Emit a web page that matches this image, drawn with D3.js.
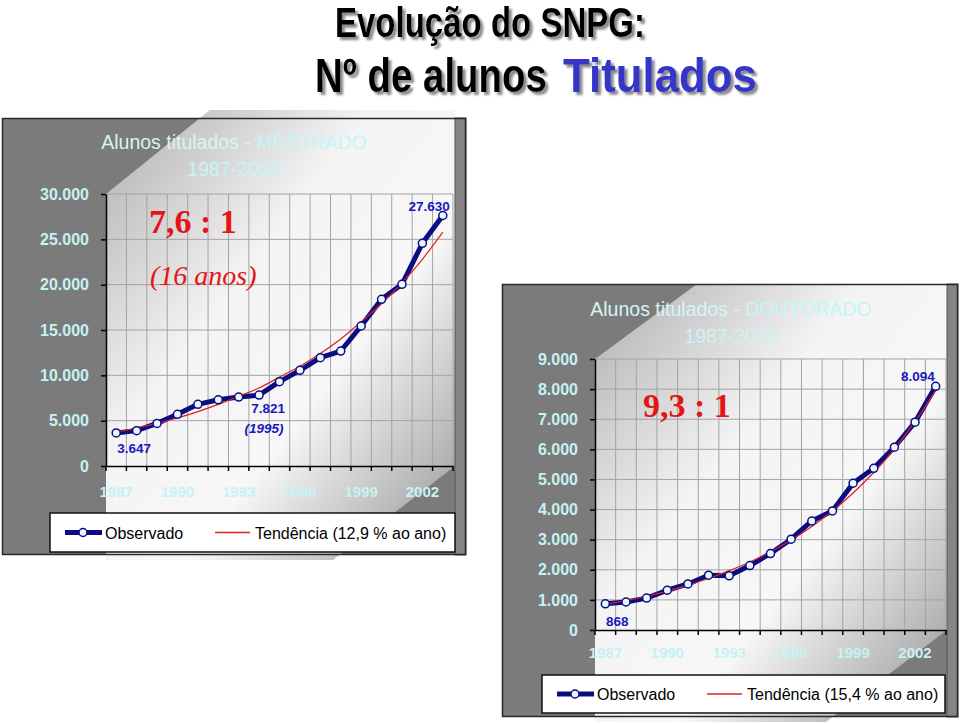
<!DOCTYPE html>
<html><head><meta charset="utf-8">
<script src="https://cdn.jsdelivr.net/npm/d3@7"></script>
<style>body{margin:0;background:#fff}</style>
</head><body><svg id="c" width="960" height="724"></svg>
<script>
// ---------- DATA ----------
const years = ["1987","1988","1989","1990","1991","1992","1993","1994","1995","1996","1997","1998","1999","2000","2001","2002","2003"];
const xTickLabels = ["1987","1990","1993","1996","1999","2002"];

const mestradoObs   = [3647, 3900, 4700, 5700, 6800, 7300, 7600, 7821, 9300, 10550, 11950, 12680, 15440, 18380, 20040, 24560, 27630];
const mestradoTrend = [3700, 4200, 4700, 5300, 6000, 6800, 7700, 8600, 9800, 11000, 12400, 14000, 15900, 17900, 20200, 22800, 25800];
const mestradoTicks = [0, 5000, 10000, 15000, 20000, 25000, 30000];
const mestradoTickLabels = ["0","5.000","10.000","15.000","20.000","25.000","30.000"];

const doutoradoObs   = [868, 930, 1060, 1320, 1530, 1820, 1800, 2140, 2540, 3015, 3620, 3955, 4876, 5370, 6070, 6900, 8094];
const doutoradoTrend = [850, 980, 1120, 1290, 1490, 1710, 1970, 2260, 2600, 2990, 3440, 3950, 4550, 5230, 6010, 6920, 7950];
const doutoradoTicks = [0, 1000, 2000, 3000, 4000, 5000, 6000, 7000, 8000, 9000];
const doutoradoTickLabels = ["0","1.000","2.000","3.000","4.000","5.000","6.000","7.000","8.000","9.000"];

const legendLabels = ["Observado", "Tendência (12,9 % ao ano)", "Tendência (15,4 % ao ano)"];

// ---------- DRAW ----------
const svg = d3.select("#c");
const defs = svg.append("defs");
const grad = defs.append("linearGradient").attr("id","wall")
  .attr("x1",0).attr("y1",0).attr("x2",1).attr("y2",1);
[[0,"#aeaeae"],[0.38,"#f4f4f4"],[0.62,"#f7f7f7"],[1,"#939393"]]
  .forEach(([o,c])=>grad.append("stop").attr("offset",o).attr("stop-color",c));

const sh = defs.append("filter").attr("id","shadow").attr("x","-10%").attr("y","-20%").attr("width","130%").attr("height","150%");
sh.append("feDropShadow").attr("dx",3).attr("dy",3).attr("stdDeviation",0.8)
  .attr("flood-color","#8a8a8a").attr("flood-opacity",1);

const SANS = "'Liberation Sans', Arial, sans-serif";
const SERIF = "'Liberation Serif', 'Times New Roman', serif";
const LABEL_COL = "#c6f2f2";
const BLUE = "#0c0c82";
const RED = "#e02020";
const ANNOT = "#1818c0";

function panel(o) {
  const g = svg.append("g");
  g.append("rect").attr("x",o.frame[0]).attr("y",o.frame[1])
    .attr("width",o.frame[2]-o.frame[0]).attr("height",o.frame[3]-o.frame[1])
    .attr("fill","#7b7b7b");
  g.append("polygon").attr("points",o.poly.map(p=>p.join(",")).join(" "))
    .attr("fill","url(#wall)");
  g.append("rect").attr("x",o.strip).attr("y",o.frame[1])
    .attr("width",o.frame[2]-o.strip).attr("height",o.frame[3]-o.frame[1])
    .attr("fill","#858585").attr("stroke","#555").attr("stroke-width",1);
  g.append("rect").attr("x",o.frame[0]+0.5).attr("y",o.frame[1]+0.5)
    .attr("width",o.frame[2]-o.frame[0]-1).attr("height",o.frame[3]-o.frame[1]-1)
    .attr("fill","none").attr("stroke","#2a2a2a").attr("stroke-width",1.5);

  const x = d3.scaleBand().domain(years).range([o.plot.left,o.plot.right]).padding(0);
  const y = d3.scaleLinear().domain([0,o.ticks[o.ticks.length-1]]).range([o.plot.bottom,o.plot.top]);
  const cx = d => x(d) + x.bandwidth()/2;

  const grid = g.append("g").attr("stroke","#a3a3a3").attr("stroke-width",1);
  years.slice(1).concat(["end"]).forEach(yr=>{
    const xx = yr==="end" ? o.plot.right : x(yr);
    grid.append("line").attr("x1",xx).attr("x2",xx).attr("y1",o.plot.top).attr("y2",o.plot.bottom);
  });
  o.ticks.slice(1).forEach(t=>{
    grid.append("line").attr("x1",o.plot.left).attr("x2",o.plot.right).attr("y1",y(t)).attr("y2",y(t));
  });

  const ya = g.append("g").attr("transform",`translate(${o.plot.left},0)`)
    .call(d3.axisLeft(y).tickValues(o.ticks).tickFormat((d,i)=>o.tickLabels[i]).tickSize(5).tickPadding(12).tickSizeOuter(0));
  ya.select(".domain").attr("stroke","#000").attr("stroke-width",1.5);
  ya.selectAll(".tick line").attr("stroke","#000").attr("stroke-width",1.5);
  ya.selectAll(".tick text").attr("fill",LABEL_COL).style("font-family",SANS)
    .style("font-size","16px").style("font-weight","bold");

  const xa = g.append("g").attr("transform",`translate(0,${o.plot.bottom})`)
    .call(d3.axisBottom(x).tickValues(xTickLabels).tickSize(0).tickPadding(o.xPad).tickSizeOuter(0));
  xa.select(".domain").attr("stroke","#000").attr("stroke-width",1.5);
  xa.selectAll(".tick text").attr("fill",LABEL_COL).style("font-family",SANS)
    .style("font-size","15px").style("font-weight","bold");
  years.concat(["end"]).forEach(yr=>{
    const xx = yr==="end" ? o.plot.right : x(yr);
    xa.append("line").attr("x1",xx).attr("x2",xx).attr("y1",0).attr("y2",5)
      .attr("stroke","#000").attr("stroke-width",1.5);
  });

  const tt = g.append("text").attr("x",o.titleX).attr("y",o.titleY).attr("text-anchor","middle")
    .style("font-family",SANS).style("font-size","19.5px").attr("fill","#d8f4f4");
  tt.append("tspan").text("Alunos titulados - ");
  tt.append("tspan").attr("fill","#c4f6f6").text(o.kind);
  g.append("text").attr("x",o.titleX).attr("y",o.titleY+27).attr("text-anchor","middle")
    .style("font-family",SANS).style("font-size","19.5px").attr("fill","#c8f4f4").text("1987-2003");

  const line = d3.line().x((d,i)=>cx(years[i])).y(d=>y(d));
  g.append("path").datum(o.obs).attr("d",line).attr("fill","none")
    .attr("stroke",BLUE).attr("stroke-width",5).attr("stroke-linejoin","round");
  g.append("path").datum(o.trend).attr("d",line.curve(d3.curveMonotoneX)).attr("fill","none")
    .attr("stroke",RED).attr("stroke-width",1.2);
  g.selectAll("circle.pt").data(o.obs).enter().append("circle").attr("class","pt")
    .attr("cx",(d,i)=>cx(years[i])).attr("cy",d=>y(d)).attr("r",4)
    .attr("fill","#eaf8ff").attr("stroke",BLUE).attr("stroke-width",1.5);

  g.append("text").attr("x",o.ratioX).attr("y",o.ratioY).style("font-family",SERIF)
    .style("font-size","34px").style("font-weight","bold").attr("fill","#e51515").text(o.ratio);
  if (o.sub) g.append("text").attr("x",o.ratioX+1).attr("y",o.ratioY+52).style("font-family",SERIF)
    .style("font-size","28px").style("font-style","italic").attr("fill","#e51515").text(o.sub);

  o.annots.forEach(a=>{
    const i = a.idx;
    g.append("text").attr("x",cx(years[i])+a.dx).attr("y",y(o.obs[i])+a.dy)
      .attr("text-anchor",a.anchor).style("font-family",SANS).style("font-size","13.5px")
      .style("font-weight","bold").style("font-style",a.italic?"italic":"normal")
      .attr("fill",ANNOT).text(a.text);
  });

  const L = o.legend;
  g.append("rect").attr("x",L[0]).attr("y",L[1]).attr("width",L[2]-L[0]).attr("height",L[3]-L[1])
    .attr("fill","#fff").attr("stroke","#111").attr("stroke-width",1.5);
  const ly = (L[1]+L[3])/2;
  g.append("line").attr("x1",L[0]+15).attr("x2",L[0]+52).attr("y1",ly).attr("y2",ly)
    .attr("stroke",BLUE).attr("stroke-width",5);
  g.append("circle").attr("cx",L[0]+33).attr("cy",ly).attr("r",4)
    .attr("fill","#eaf8ff").attr("stroke",BLUE).attr("stroke-width",1.5);
  g.append("text").attr("x",L[0]+55).attr("y",ly+6).style("font-family",SANS).style("font-size","16px")
    .attr("fill","#000").text(legendLabels[0]);
  g.append("line").attr("x1",L[0]+165).attr("x2",L[0]+200).attr("y1",ly).attr("y2",ly)
    .attr("stroke",RED).attr("stroke-width",1.3);
  g.append("text").attr("x",L[0]+205).attr("y",ly+6).style("font-family",SANS).style("font-size","16px")
    .attr("fill","#000").text(o.trendLabel);
}

panel({
  frame:[2,118,466,555], strip:455,
  poly:[[210,110],[455,110],[455,466],[333,560],[106,560],[106,194]],
  plot:{left:106,right:453,top:194,bottom:466}, xPad:20,
  ticks:mestradoTicks, tickLabels:mestradoTickLabels,
  obs:mestradoObs, trend:mestradoTrend, kind:"MESTRADO",
  titleX:234, titleY:149,
  ratio:"7,6 : 1", sub:"(16 anos)", ratioX:149, ratioY:233,
  annots:[
    {idx:16, text:"27.630", dx:7, dy:-4, anchor:"end"},
    {idx:7, text:"7.821", dx:9, dy:18, anchor:"middle"},
    {idx:7, text:"(1995)", dx:5, dy:38, anchor:"middle", italic:true},
    {idx:0, text:"3.647", dx:18, dy:20, anchor:"middle"}
  ],
  legend:[50,513,455,552], trendLabel:legendLabels[1]
});

panel({
  frame:[502,284,958,717], strip:947,
  poly:[[697,284],[947,284],[947,630],[826,722],[595,722],[595,359]],
  plot:{left:595,right:946,top:359,bottom:630}, xPad:17,
  ticks:doutoradoTicks, tickLabels:doutoradoTickLabels,
  obs:doutoradoObs, trend:doutoradoTrend, kind:"DOUTORADO",
  titleX:731, titleY:316,
  ratio:"9,3 : 1", sub:null, ratioX:643, ratioY:417,
  annots:[
    {idx:16, text:"8.094", dx:-1, dy:-5, anchor:"end"},
    {idx:0, text:"868", dx:12, dy:22, anchor:"middle"}
  ],
  legend:[542,675,945,713], trendLabel:legendLabels[2]
});

// ---------- MAIN TITLE (condensed via horizontal scale) ----------
const TF = "'Liberation Sans Narrow', 'Arial Narrow', 'Liberation Sans', Arial, sans-serif";
function titlePart(x, yb, size, len, txt, col) {
  const g = svg.append("g").attr("filter","url(#shadow)");
  const t = g.append("text").attr("x",0).attr("y",0)
    .style("font-family",TF).style("font-weight","bold").style("font-size",size+"px")
    .attr("fill",col).text(txt);
  const w = t.node().getComputedTextLength() || len;
  t.attr("transform",`translate(${x},${yb}) scale(${len/w},1)`);
}
titlePart(335, 37, 42, 310, "Evolução do SNPG:", "#000");
titlePart(315, 92, 48, 232, "Nº de alunos", "#000");
titlePart(563, 92, 48, 194, "Titulados", "#3535c8");
</script></body></html>
